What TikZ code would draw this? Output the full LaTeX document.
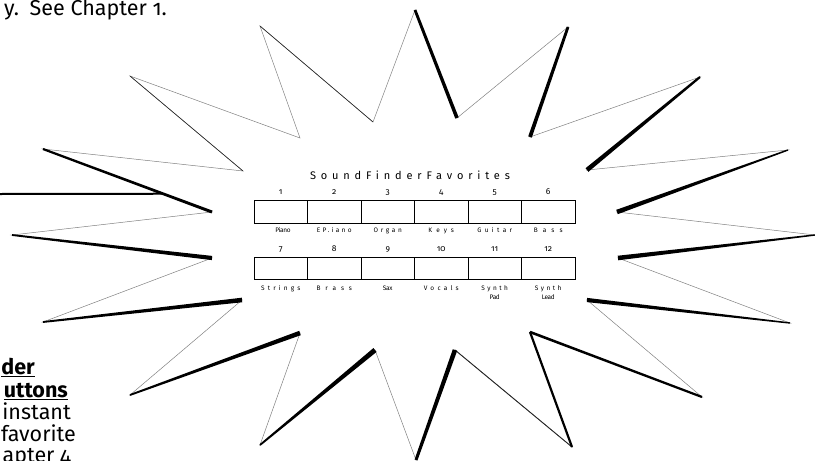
\documentclass[tikz,border=0pt]{standalone}
\usepackage{fontspec}
\setmainfont{Fira Sans}[Numbers=OldStyle]
\usetikzlibrary{calc}
\newcommand\lsp[2]{{\addfontfeature{LetterSpace=#1}#2}}
\newcommand\tedge[4]{\fill[black] ($(#1)!#3!90:(#2)$) -- ($(#1)!#3!-90:(#2)$) -- ($(#2)!#4!90:(#1)$) -- ($(#2)!#4!-90:(#1)$) -- cycle;}
\tikzset{
  thinline/.style={draw=black!50, line width=0.5pt, line join=miter},
  darkline/.style={draw=black!85, line width=0.6pt},
  btn/.style={draw=black, line width=0.8pt, minimum width=53.5pt, minimum height=22.5pt, inner sep=0pt},
  num/.style={font=\fontsize{8.5}{10}\selectfont, anchor=base, inner sep=0pt},
  lab/.style={font=\fontsize{6.5}{8}\selectfont, anchor=base, inner sep=0pt},
  bigtxt/.style={font=\fontsize{21.5}{25}\selectfont, inner sep=0pt},
  callout/.style={draw=black, line width=2pt}
}
\begin{document}
\begin{tikzpicture}[x=1pt,y=-1pt]
\useasboundingbox (0,0) rectangle (815,461);
% star vertices
\coordinate (O1) at (415,10);  \coordinate (I1) at (457,118);
\coordinate (O2) at (568,27);  \coordinate (I2) at (530,137);
\coordinate (O3) at (700,77);  \coordinate (I3) at (587,170);
\coordinate (O4) at (788,150); \coordinate (I4) at (617,212);
\coordinate (O5) at (815,235); \coordinate (I5) at (618,258);
\coordinate (O6) at (790,323); \coordinate (I6) at (587,300);
\coordinate (O7) at (702,397); \coordinate (I7) at (530,332);
\coordinate (O8) at (572,447); \coordinate (I8) at (455,350);
\coordinate (O9) at (416,460); \coordinate (I9) at (375,350);
\coordinate (O10) at (260,445); \coordinate (I10) at (300,333);
\coordinate (O11) at (130,395); \coordinate (I11) at (242,300);
\coordinate (O12) at (43,322); \coordinate (I12) at (212,258);
\coordinate (O13) at (12,235); \coordinate (I13) at (212,212);
\coordinate (O14) at (43,149); \coordinate (I14) at (243,171);
\coordinate (O15) at (130,76); \coordinate (I15) at (300,138);
\coordinate (O16) at (260,26); \coordinate (I16) at (373,122);
% thin outline
\draw[thinline] (O1) -- (I1) -- (O2) -- (I2) -- (O3) -- (I3) -- (O4) -- (I4) -- (O5) -- (I5) -- (O6) -- (I6) -- (O7) -- (I7) -- (O8) -- (I8) -- (O9) -- (I9) -- (O10) -- (I10) -- (O11) -- (I11) -- (O12) -- (I12) -- (O13) -- (I13) -- (O14) -- (I14) -- (O15) -- (I15) -- (O16) -- (I16) -- cycle;
\draw[darkline] (I14) -- (O15);
\draw[darkline] (O16) -- (I16);
\draw[darkline, line width=0.9pt] (O8) -- (I8);
% shadow edges
\tedge{O1}{I1}{1.4pt}{1.8pt}
\tedge{O2}{I2}{1.4pt}{1.9pt}
\tedge{O3}{I3}{1.1pt}{2.3pt}
\tedge{O4}{I4}{0.7pt}{2.3pt}
\tedge{O5}{I5}{0.7pt}{2.3pt}
\tedge{O6}{I6}{0.7pt}{2.1pt}
\tedge{O7}{I7}{1.1pt}{1.3pt}
\tedge{I7}{O8}{1.1pt}{1.1pt}
\tedge{I8}{O9}{2.3pt}{1.5pt}
\tedge{I9}{O10}{2.5pt}{0.9pt}
\tedge{I10}{O11}{2.3pt}{0.9pt}
\tedge{I11}{O12}{2.3pt}{0.9pt}
\tedge{I12}{O13}{2.1pt}{0.9pt}
\tedge{I13}{O14}{1.5pt}{1.1pt}
% callout line
\coordinate (cstart) at (0,194);
\coordinate (cend) at ($(O14)!0.71!(I13)$);
\draw[callout] (cstart) -- (cend);
% title
\node[font=\fontsize{11}{13}\selectfont, anchor=base, inner sep=0pt] (title) at (410,179) {\lsp{44}{SoundFinderFavorites}};
% row 1
\node[btn] (b1) at (280.75,212) {};
\node[btn] (b2) at (334.25,212) {};
\node[btn] (b3) at (387.75,212) {};
\node[btn] (b4) at (441.25,212) {};
\node[btn] (b5) at (494.75,212) {};
\node[btn] (b6) at (548.25,212) {};
\node[num] (n1) at (280.75,194.5) {1};
\node[num] (n2) at (334.25,194.5) {2};
\node[num] (n3) at (387.75,194.5) {3};
\node[num] (n4) at (441.25,194.5) {4};
\node[num] (n5) at (494.75,194.5) {5};
\node[num] (n6) at (548.25,194.5) {6};
\node[lab] (l1) at (283,232.5) {\lsp{-5}{Piano}};
\node[lab] (l2) at (334.25,232.5) {\lsp{35}{EP.iano}};
\node[lab] (l3) at (387.75,232.5) {\lsp{42}{Organ}};
\node[lab] (l4) at (441.25,232.5) {\lsp{62}{Keys}};
\node[lab] (l5) at (494.75,232.5) {\lsp{52}{Guitar}};
\node[lab] (l6) at (548.25,232.5) {\lsp{78}{Bass}};
% row 2
\node[btn, minimum height=22pt] (b7) at (280.75,268.3) {};
\node[btn, minimum height=22pt] (b8) at (334.25,268.3) {};
\node[btn, minimum height=22pt] (b9) at (387.75,268.3) {};
\node[btn, minimum height=22pt] (b10) at (441.25,268.3) {};
\node[btn, minimum height=22pt] (b11) at (494.75,268.3) {};
\node[btn, minimum height=22pt] (b12) at (548.25,268.3) {};
\node[num] (n7) at (280.75,251) {7};
\node[num] (n8) at (334.25,251) {8};
\node[num] (n9) at (387.75,251) {9};
\node[num] (n10) at (441.25,251) {10};
\node[num] (n11) at (494.75,251) {11};
\node[num] (n12) at (548.25,251) {12};
\node[lab] (l7) at (280.75,290) {\lsp{48}{Strings}};
\node[lab] (l8) at (334.25,290) {\lsp{76}{Brass}};
\node[lab] (l9) at (387.75,290) {\lsp{-5}{Sax}};
\node[lab] (l10) at (441.25,290) {\lsp{50}{Vocals}};
\node[lab] (l11) at (494.75,290) {\lsp{38}{Synth}};
\node[lab] (l11b) at (494.75,299) {\lsp{-5}{Pad}};
\node[lab] (l12) at (548.25,290) {\lsp{38}{Synth}};
\node[lab] (l12b) at (548.25,299) {\lsp{-5}{Lead}};
% page text
\node[bigtxt, anchor=base east] (top) at (167,15) {y.\enspace See Chapter 1.};
\node[bigtxt, anchor=base east] (t1) at (35,374) {\textbf{\underline{der}}};
\node[bigtxt, anchor=base east] (t2) at (68,397) {\textbf{\underline{uttons}}};
\node[bigtxt, anchor=base east] (t3) at (71,419) {instant};
\node[bigtxt, anchor=base east] (t4) at (76,441) {favorite};
\node[bigtxt, anchor=base east] (t5) at (71,462) {apter 4};
\end{tikzpicture}
\end{document}
